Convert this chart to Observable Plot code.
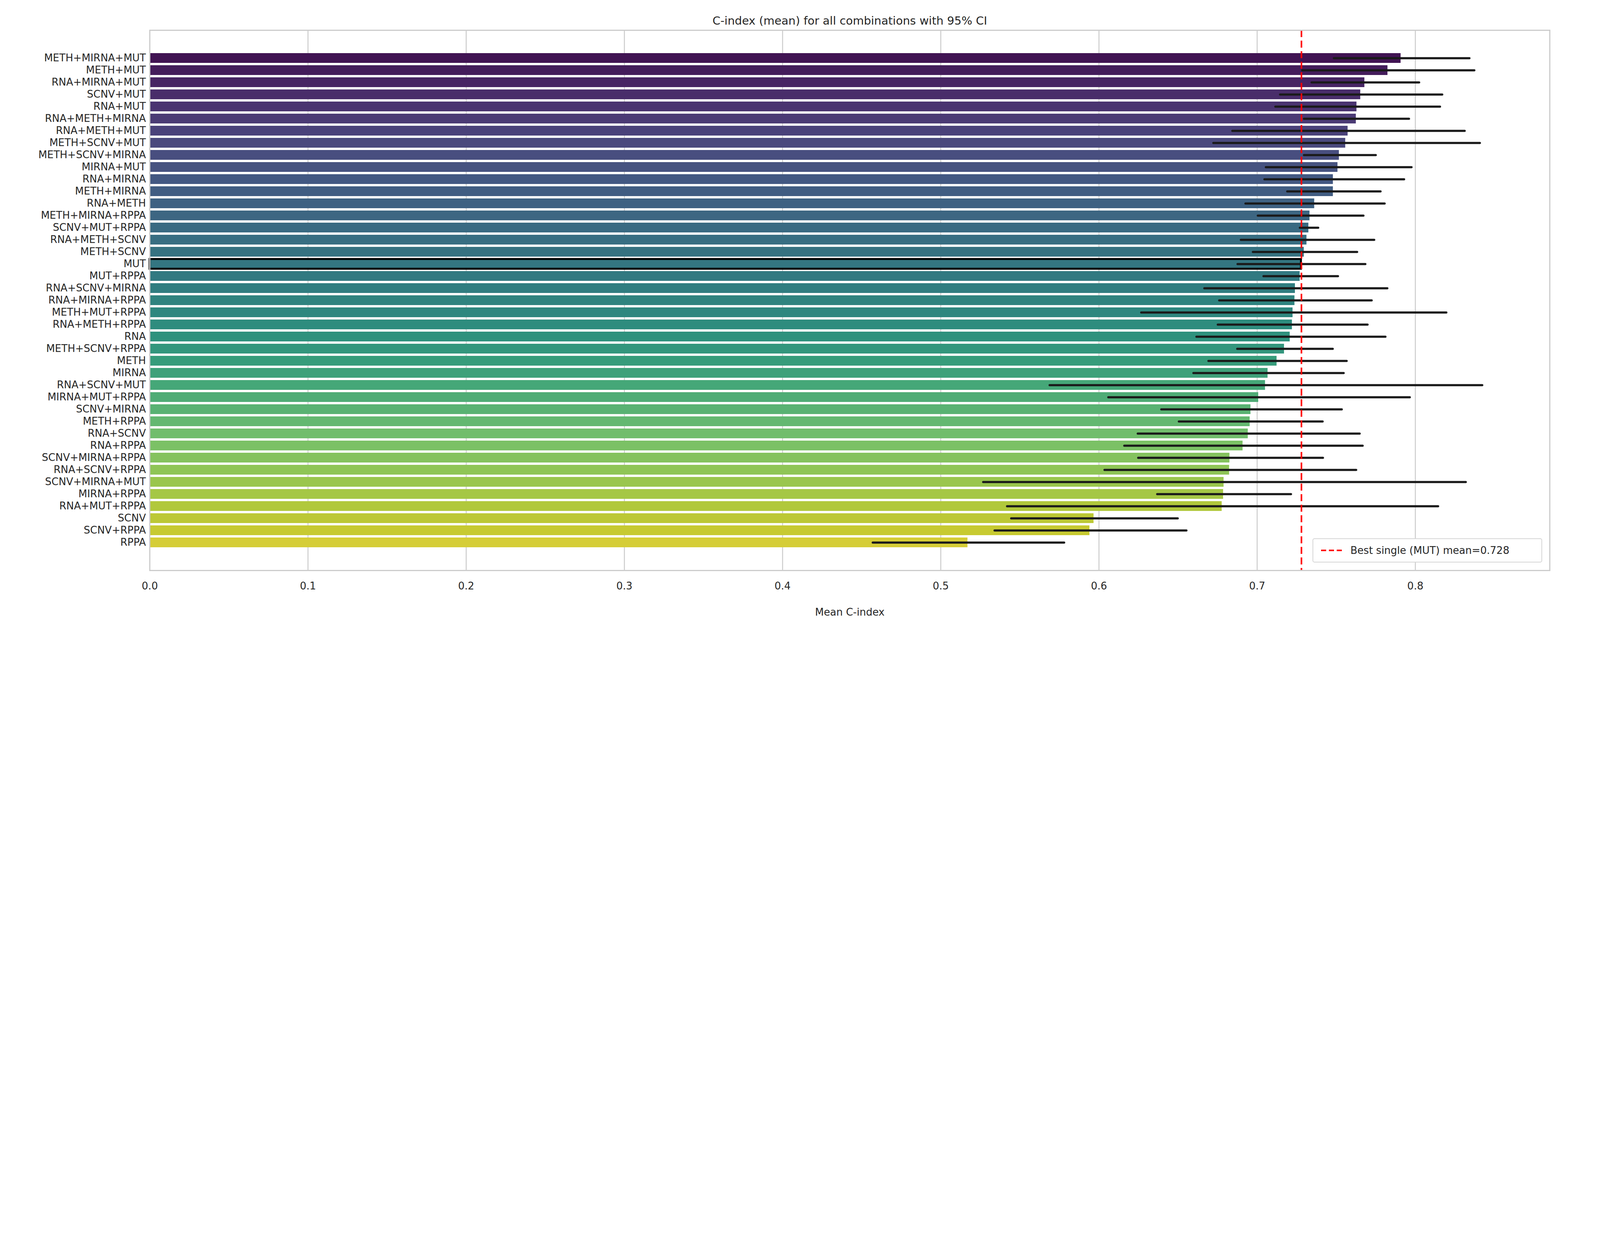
<!DOCTYPE html>
<html>
<head>
<meta charset="utf-8">
<script src="https://cdn.jsdelivr.net/npm/d3@7"></script>
<script src="https://cdn.jsdelivr.net/npm/@observablehq/plot@0.6"></script>
<style>
  body { margin: 0; background: white; font-family: "DejaVu Sans", sans-serif; }
  #wrap { position: relative; width: 4000px; height: 1600px; }
  #legend {
    position: absolute; left: 3360px; top: 1378px; width: 588px; height: 62px;
    box-sizing: border-box; border: 2.5px solid #d6d6d6; border-radius: 5px; background: white;
    display: flex; align-items: center; font-size: 26px; color: #262626;
  }
  #legend svg { margin: 0 15px 0 20px; }
</style>
</head>
<body>
<div id="wrap">
  <div id="chart"></div>
  <div id="legend">
    <svg width="60" height="10"><line x1="0" y1="5" x2="60" y2="5" stroke="red" stroke-width="4" stroke-dasharray="13,7"/></svg>
    <span>Best single (MUT) mean=0.728</span>
  </div>
</div>
<script>
// combinaciones, ordenadas por media
const combos = ["METH+MIRNA+MUT","METH+MUT","RNA+MIRNA+MUT","SCNV+MUT","RNA+MUT","RNA+METH+MIRNA",
  "RNA+METH+MUT","METH+SCNV+MUT","METH+SCNV+MIRNA","MIRNA+MUT","RNA+MIRNA","METH+MIRNA","RNA+METH",
  "METH+MIRNA+RPPA","SCNV+MUT+RPPA","RNA+METH+SCNV","METH+SCNV","MUT","MUT+RPPA","RNA+SCNV+MIRNA",
  "RNA+MIRNA+RPPA","METH+MUT+RPPA","RNA+METH+RPPA","RNA","METH+SCNV+RPPA","METH","MIRNA","RNA+SCNV+MUT",
  "MIRNA+MUT+RPPA","SCNV+MIRNA","METH+RPPA","RNA+SCNV","RNA+RPPA","SCNV+MIRNA+RPPA","RNA+SCNV+RPPA",
  "SCNV+MIRNA+MUT","MIRNA+RPPA","RNA+MUT+RPPA","SCNV","SCNV+RPPA","RPPA"];
const means = [0.7908,0.7825,0.7679,0.7653,0.7629,0.7625,0.7573,0.7558,0.7518,0.7509,0.748,0.748,0.7362,
  0.7332,0.7325,0.7313,0.7296,0.7278,0.727,0.724,0.7237,0.7225,0.7221,0.7207,0.7171,0.7124,0.7067,0.7051,
  0.7008,0.6959,0.6954,0.6942,0.6909,0.6826,0.6824,0.6789,0.6786,0.6777,0.5967,0.5941,0.517];
const ciLow = [0.7485,0.7285,0.7344,0.7145,0.7115,0.7296,0.6843,0.6723,0.7296,0.7055,0.7046,0.719,0.6926,
  0.7004,0.727,0.6897,0.6973,0.6876,0.704,0.6666,0.676,0.6267,0.6751,0.6616,0.6874,0.6692,0.6597,0.5688,
  0.6059,0.6394,0.6505,0.6245,0.616,0.6248,0.6035,0.5268,0.6368,0.5419,0.5445,0.534,0.457];
const ciHigh = [0.8342,0.8373,0.8024,0.817,0.8156,0.796,0.8312,0.8408,0.775,0.7976,0.7929,0.778,0.7806,
  0.7672,0.7386,0.774,0.7632,0.7684,0.7511,0.7823,0.7724,0.8196,0.7698,0.7811,0.7478,0.7566,0.7547,0.8423,
  0.7965,0.7535,0.7414,0.7648,0.7667,0.7416,0.7626,0.8319,0.7214,0.8144,0.6498,0.6553,0.578];
const bestSingle = 0.728;
const xTicks = [0, 0.1, 0.2, 0.3, 0.4, 0.5, 0.6, 0.7, 0.8];

// paleta viridis algo desaturada (como seaborn)
const paleta = combos.map((c, i) => {
  const h = d3.hsl(d3.interpolateViridis((i + 1) / (combos.length + 1)));
  h.s *= 0.75;
  return h.formatHex();
});
const data = combos.map((c, i) => ({ combo: c, mean: means[i], lo: ciLow[i], hi: ciHigh[i], color: paleta[i] }));

const chart = Plot.plot({
  width: 4000,
  height: 1600,
  marginLeft: 383,
  marginRight: 33,
  marginTop: 77,
  marginBottom: 140,
  style: { fontFamily: "DejaVu Sans", fontSize: "26px", color: "#262626", background: "white" },
  x: { domain: [0, 0.885], ticks: xTicks, tickFormat: d3.format(".1f"), grid: false,
       label: "Mean C-index", labelAnchor: "center", labelArrow: "none", labelOffset: 115, tickSize: 0, tickPadding: 30 },
  y: { domain: combos, paddingInner: 0.2, paddingOuter: 1.8, label: null, tickSize: 0, tickPadding: 10 },
  marks: [
    Plot.ruleX(xTicks.slice(1), { stroke: "#cccccc", strokeWidth: 2.5 }),
    Plot.barX(data, { y: "combo", x: "mean", fill: "color" }),
    Plot.barX(data.filter(d => d.combo === "MUT"), { y: "combo", x: "mean", fill: "none", stroke: "black", strokeWidth: 5 }),
    Plot.link(data, { y1: "combo", y2: "combo", x1: "lo", x2: "hi", stroke: "#1a1a1a", strokeWidth: 5.5, strokeLinecap: "round" }),
    Plot.ruleX([bestSingle], { stroke: "red", strokeWidth: 4, strokeDasharray: "18,9" }),
    Plot.frame({ stroke: "#cccccc", strokeWidth: 3 }),
    Plot.text(["C-index (mean) for all combinations with 95% CI"], { frameAnchor: "top", dy: -35, fontSize: 29, fill: "#262626" })
  ]
});
d3.select('#chart').append(() => chart);
</script>
</body>
</html>
